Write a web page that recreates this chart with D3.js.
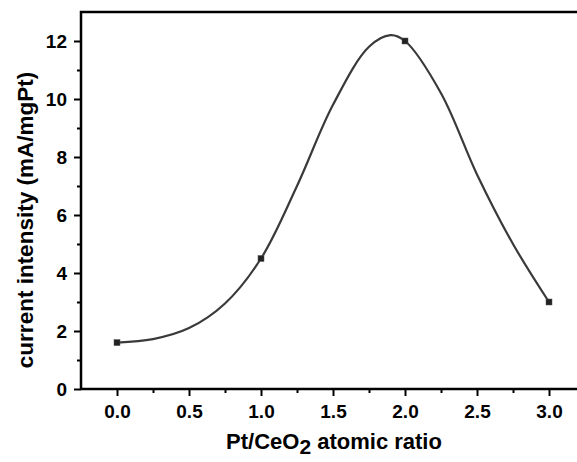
<!DOCTYPE html>
<html>
<head>
<meta charset="utf-8">
<script src="https://cdn.jsdelivr.net/npm/d3@7"></script>
<style>
  body { margin: 0; background: #fff; }
  text { font-family: "Liberation Sans", Arial, sans-serif; font-weight: bold; fill: #000; }
</style>
</head>
<body>
<svg id="chart"></svg>
<script>
// measured points
let ratio = [0, 1, 2, 3];
let current = [1.6, 4.5, 12, 3];
// smooth curve, values
let curveX = [0, 0.25, 0.5, 0.75, 1.0, 1.25, 1.5, 1.75, 1.9, 2.0, 2.25, 2.5, 2.75, 3.0];
let curveY = [1.6, 1.72, 2.1, 2.95, 4.5, 7.0, 9.8, 11.8, 12.2, 12.0, 10.2, 7.4, 5.0, 3.0];
// ticks
let xMajor = [0, 0.5, 1, 1.5, 2, 2.5, 3];
let xMinor = [0.25, 0.75, 1.25, 1.75, 2.25, 2.75];
let yMajor = [0, 2, 4, 6, 8, 10, 12];
let yMinor = [1, 3, 5, 7, 9, 11];

let w = 577, h = 462;
let svg = d3.select("#chart").attr("width", w).attr("height", h);

let x = d3.scaleLinear().domain([-0.25, 3.25]).range([81, 585]);
let y = d3.scaleLinear().domain([0, 13]).range([389, 12]);

let line = d3.line()
  .x(d => x(d[0]))
  .y(d => y(d[1]))
  .curve(d3.curveCatmullRom.alpha(0.5));

svg.append("path")
  .attr("d", line(curveX.map((v, i) => [v, curveY[i]])))
  .attr("fill", "none")
  .attr("stroke", "#3a3a3a")
  .attr("stroke-width", 2.2);

let pts = ratio.map((r, i) => [r, current[i]]);
svg.selectAll("rect.pt").data(pts).enter().append("rect")
  .attr("class", "pt")
  .attr("x", d => x(d[0]) - 3).attr("y", d => y(d[1]) - 3)
  .attr("width", 6).attr("height", 6)
  .attr("fill", "#222").attr("stroke", "#555").attr("stroke-width", 0.5);

// frame
svg.append("rect").attr("x", x(-0.25)).attr("y", y(13))
  .attr("width", x(3.25) - x(-0.25)).attr("height", y(0) - y(13))
  .attr("fill", "none").attr("stroke", "#000").attr("stroke-width", 2.5);

svg.append("g").attr("transform", `translate(0,${y(0)})`)
  .call(d3.axisBottom(x).tickValues(xMajor).tickFormat(d3.format(".1f")).tickSize(7).tickPadding(9));
svg.append("g").attr("transform", `translate(0,${y(0)})`)
  .call(d3.axisBottom(x).tickValues(xMinor).tickFormat("").tickSize(4));
svg.append("g").attr("transform", `translate(${x(-0.25)},0)`)
  .call(d3.axisLeft(y).tickValues(yMajor).tickFormat(d3.format("d")).tickSize(7).tickPadding(7));
svg.append("g").attr("transform", `translate(${x(-0.25)},0)`)
  .call(d3.axisLeft(y).tickValues(yMinor).tickFormat("").tickSize(4));

svg.selectAll(".domain").remove();
svg.selectAll(".tick line").attr("stroke", "#000").attr("stroke-width", 2);
svg.selectAll(".tick text").attr("font-size", 19).attr("fill", "#000")
  .style("font-family", "'Liberation Sans', Arial, sans-serif").style("font-weight", "bold");

let xt = svg.append("text").attr("x", 334).attr("y", 449).attr("text-anchor", "middle")
  .attr("font-size", 22);
xt.append("tspan").text("Pt/CeO");
xt.append("tspan").attr("dy", 5).attr("font-size", 21).text("2");
xt.append("tspan").attr("dy", -5).text(" atomic ratio");

svg.append("text").attr("transform", "translate(33,220) rotate(-90)")
  .attr("text-anchor", "middle").attr("font-size", 22.5)
  .text("current intensity (mA/mgPt)");
</script>
</body>
</html>
